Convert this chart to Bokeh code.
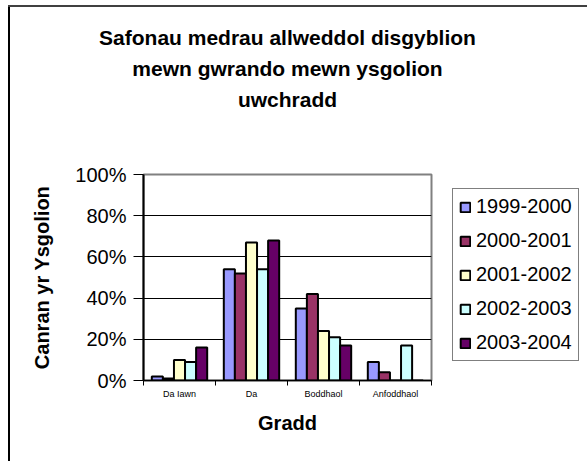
import numpy as np
from bokeh.plotting import figure
from bokeh.models import (Range1d, FixedTicker, PrintfTickFormatter, Legend,
                          LegendItem, Title)
from bokeh.embed import file_html
from bokeh.resources import INLINE

categories = ["Da Iawn", "Da", "Boddhaol", "Anfoddhaol"]
series = ["1999-2000", "2000-2001", "2001-2002", "2002-2003", "2003-2004"]
v1999_2000 = [2, 54, 35, 9]
v2000_2001 = [1, 52, 42, 4]
v2001_2002 = [10, 67, 24, 0]
v2002_2003 = [9, 54, 21, 17]
v2003_2004 = [16, 68, 17, 0]
series_values = [v1999_2000, v2000_2001, v2001_2002, v2002_2003, v2003_2004]
colors = ["#9999FF", "#993366", "#FFFFCC", "#CCFFFF", "#660066"]
y_ticks = [0, 20, 40, 60, 80, 100]
title_lines = ["Safonau medrau allweddol disgyblion",
               "mewn gwrando mewn ysgolion",
               "uwchradd"]
x_title = "Gradd"
y_title = "Canran yr Ysgolion"

FONT = "Liberation Sans"

p = figure(frame_width=288, frame_height=206,
           x_range=Range1d(0, len(categories)), y_range=Range1d(0, 100),
           output_backend="svg", toolbar_location=None,
           min_border_left=143, min_border_right=156,
           min_border_top=174, min_border_bottom=81,
           background_fill_color="white", border_fill_color="white",
           border_fill_alpha=0)
# outer chart-area border (top and left edges visible in the window)
p.styles = {
    "background": ("linear-gradient(#404040,#404040) 8px 5px / 2000px 2px no-repeat, "
                   "linear-gradient(#000000,#000000) 8px 5px / 2px 2000px no-repeat, "
                   "#ffffff"),
}

n = len(series)
bar_w = 1.0 / (n + 1.5)
centers = np.arange(len(categories)) + 0.5
items = []
for i, (name, vals, col) in enumerate(zip(series, series_values, colors)):
    xs = centers + (i - (n - 1) / 2) * bar_w
    r = p.vbar(x=xs, top=vals, width=bar_w, bottom=0,
               fill_color=col, line_color="black", line_width=2)
    items.append(LegendItem(label=name, renderers=[r]))

p.outline_line_color = "#808080"
p.outline_line_width = 2
p.xgrid.visible = False
p.ygrid.grid_line_color = "black"
p.ygrid.grid_line_width = 1
p.ygrid.ticker = FixedTicker(ticks=y_ticks)

ya = p.yaxis[0]
ya.ticker = FixedTicker(ticks=y_ticks)
ya.formatter = PrintfTickFormatter(format="%d%%")
ya.major_tick_out = 10
ya.major_tick_in = 0
ya.minor_tick_out = 0
ya.minor_tick_in = 0
ya.axis_line_color = "black"
ya.axis_line_width = 2
ya.major_tick_line_color = "black"
ya.major_label_text_font = FONT
ya.major_label_text_font_size = "20px"
ya.major_label_text_color = "black"
ya.major_label_standoff = 7
ya.axis_label = y_title
ya.axis_label_text_font = FONT
ya.axis_label_text_font_size = "20px"
ya.axis_label_text_font_style = "bold"
ya.axis_label_text_color = "black"
ya.axis_label_standoff = 19

xa = p.xaxis[0]
xa.ticker = FixedTicker(ticks=list(centers),
                        minor_ticks=list(range(len(categories) + 1)))
xa.major_label_overrides = {float(c): lab for c, lab in zip(centers, categories)}
xa.major_tick_out = 0
xa.major_tick_in = 0
xa.minor_tick_out = 5
xa.minor_tick_in = 0
xa.minor_tick_line_color = "black"
xa.axis_line_color = "black"
xa.axis_line_width = 1.5
xa.major_label_text_font = FONT
xa.major_label_text_font_size = "9px"
xa.major_label_text_color = "black"
xa.major_label_standoff = 3
xa.axis_label = x_title
xa.axis_label_text_font = FONT
xa.axis_label_text_font_size = "20px"
xa.axis_label_text_font_style = "bold"
xa.axis_label_text_color = "black"
xa.axis_label_standoff = 10

# spacer between the title block and the plot area
p.add_layout(Title(text=" ", text_font_size="1px", standoff=58), "above")
# title lines, added from the frame upwards
for line, so in zip(reversed(title_lines), [5, 7, 5]):
    p.add_layout(Title(text=line, align="center", standoff=so,
                       text_font=FONT, text_font_size="21px",
                       text_font_style="bold", text_color="black"), "above")

legend = Legend(items=items, location=(21, 19))
legend.label_text_font = FONT
legend.label_text_font_size = "20px"
legend.label_text_color = "black"
legend.glyph_width = 12
legend.glyph_height = 12
legend.label_height = 21
legend.label_standoff = 5
legend.spacing = 11
legend.padding = 6
legend.border_line_color = "black"
legend.border_line_width = 1
legend.background_fill_color = "white"
legend.background_fill_alpha = 1
p.add_layout(legend, "right")

open("out.html", "w").write(file_html(p, INLINE))
